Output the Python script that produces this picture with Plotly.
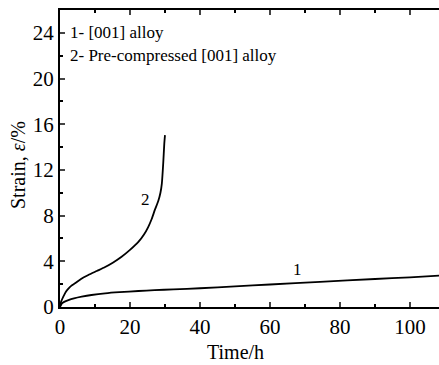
import plotly.graph_objects as go

# Curve 1: [001] alloy
t1 = [0, 0.5, 1.2, 2.4, 4, 6.2, 9, 12.9, 17, 22.4, 27, 32.4, 40, 50, 60, 74.3, 90, 100, 108.3]
s1 = [0, 0.3, 0.45, 0.6, 0.75, 0.9, 1.05, 1.2, 1.3, 1.4, 1.47, 1.55, 1.64, 1.8, 1.97, 2.2, 2.45, 2.6, 2.74]

# Curve 2: pre-compressed [001] alloy
t2 = [0, 0.3, 0.95, 1.6, 2.4, 3.2, 4.3, 6, 8.1, 10.5, 12.9, 15.2, 17.6, 20, 22.4, 24, 25.2, 26.2, 27.1, 28.1, 28.7, 29.1, 29.5, 29.8, 30.0]
s2 = [0, 0.45, 0.9, 1.3, 1.6, 1.85, 2.07, 2.45, 2.8, 3.15, 3.5, 3.9, 4.4, 5.0, 5.7, 6.35, 7.0, 7.7, 8.5, 9.3, 10.0, 10.8, 12.6, 14.3, 15.05]

x_ticks = [0, 20, 40, 60, 80, 100]
y_ticks = [0, 4, 8, 12, 16, 20, 24]
legend_lines = ["1- [001] alloy", "2- Pre-compressed [001] alloy"]
curve_labels = [("1", 68, 3.3), ("2", 24.5, 9.4)]
x_title = "Time/h"
y_title = "Strain, <i>ε</i>/%"

FONT = "Liberation Serif, Times New Roman, DejaVu Serif, serif"

fig = go.Figure()
fig.add_trace(go.Scatter(x=t1, y=s1, mode="lines", line=dict(color="black", width=1.8, shape="spline", smoothing=0.6), showlegend=False))
fig.add_trace(go.Scatter(x=t2, y=s2, mode="lines", line=dict(color="black", width=1.8, shape="spline", smoothing=0.6), showlegend=False))

for txt, xx, yy in curve_labels:
    fig.add_annotation(x=xx, y=yy, text=txt, showarrow=False, font=dict(family=FONT, size=17, color="black"))

for i, txt in enumerate(legend_lines):
    fig.add_annotation(x=0.022, xref="paper", y=24 - i * 2, yref="y", text=txt, showarrow=False,
                       xanchor="left", yanchor="middle", font=dict(family=FONT, size=17, color="black"))

fig.add_annotation(x=0.464, y=-0.1515, xref="paper", yref="paper", text=x_title, showarrow=False,
                   xanchor="center", yanchor="middle", font=dict(family=FONT, size=20, color="black"))
fig.add_annotation(x=-0.1108, y=0.478, xref="paper", yref="paper", text=y_title, showarrow=False, textangle=-90,
                   xanchor="center", yanchor="middle", font=dict(family=FONT, size=20, color="black"))

fig.update_layout(
    width=439, height=365,
    margin=dict(l=60, r=0, t=10, b=58),
    paper_bgcolor="white", plot_bgcolor="white",
    font=dict(family=FONT, color="black", size=18),
    xaxis=dict(range=[0, 108.3], tickvals=x_ticks, ticks="inside", ticklen=5, tickwidth=1.5,
               showline=True, linewidth=2, linecolor="black", mirror="ticks", showgrid=False, zeroline=False,
               minor=dict(dtick=10, ticks="inside", ticklen=3, tickcolor="black", tickwidth=1.5),
               tickfont=dict(family=FONT, size=21)),
    yaxis=dict(range=[0, 26], tickvals=y_ticks, ticks="inside", ticklen=5, tickwidth=1.5,
               showline=True, linewidth=2, linecolor="black", showgrid=False, zeroline=False,
               minor=dict(dtick=2, ticks="inside", ticklen=3, tickcolor="black", tickwidth=1.5),
               tickfont=dict(family=FONT, size=21)),
)

fig.write_html("out.html", config={"displayModeBar": False},
               post_script="document.body.style.margin='0';document.body.style.overflow='hidden';")
